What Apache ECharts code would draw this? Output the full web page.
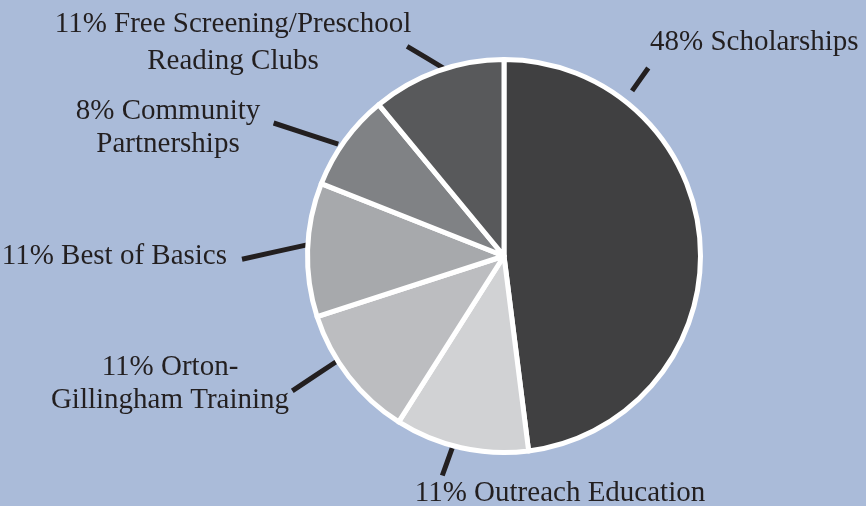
<!DOCTYPE html>
<html>
<head>
<meta charset="utf-8">
<script src="https://cdn.jsdelivr.net/npm/echarts@6/dist/echarts.min.js"></script>
<style>
html,body{margin:0;padding:0;background:#aabbd9;}
#c{width:866px;height:506px;}
</style>
</head>
<body>
<div id="c"></div>
<script>
const categories = ['Scholarships', 'Outreach Education', 'Orton-Gillingham Training', 'Best of Basics', 'Community Partnerships', 'Free Screening/Preschool Reading Clubs'];
const values = [48, 11, 11, 11, 8, 11];
const labelTexts = ['48% Scholarships', '11% Outreach Education', '11% Orton-\nGillingham Training', '11% Best of Basics', '8% Community\nPartnerships', '11% Free Screening/Preschool\nReading Clubs'];
const colors = ['#404041', '#d1d2d4', '#bcbdc0', '#a7a9ac', '#808285', '#58595b'];

// layout (styling only)
const CX = 504, CY = 256, R = 196.5;
const lineInner = [[37.8, 209], [195.1, 199], [237.8, 197], [273.5, 194], [304, 200], [342.5, 196]];
const lineOuter = [[37.5, 237], [195.7, 228], [237.5, 251], [269.3, 262], [300, 266], [335.2, 231]];
const labelPos = [[650, 42, 'left'], [560, 493, 'center'], [170, 384, 'center'], [227, 256, 'right'], [168, 128, 'center'], [233, 43, 'center']];
const lineHeights = [34, 34, 33, 34, 33, 37];

function pt(p) {
  const t = p[0] * Math.PI / 180;
  return [CX + p[1] * Math.sin(t), CY - p[1] * Math.cos(t)];
}

const chart = echarts.init(document.getElementById('c'));
chart.setOption({
  backgroundColor: '#aabbd9',
  animation: false,
  series: [{
    type: 'pie',
    center: [CX, CY],
    radius: R,
    startAngle: 90,
    clockwise: true,
    avoidLabelOverlap: false,
    itemStyle: { borderColor: '#ffffff', borderWidth: 5 },
    label: {
      show: true,
      position: 'outside',
      color: '#231f20',
      fontFamily: 'Liberation Serif',
      fontSize: 29,
      align: 'center'
    },
    labelLine: {
      show: true,
      lineStyle: { color: '#231f20', width: 5 }
    },
    emphasis: { disabled: true },
    data: categories.map((c, i) => ({
      name: c,
      value: values[i],
      itemStyle: { color: colors[i] },
      label: { formatter: labelTexts[i], lineHeight: lineHeights[i], align: labelPos[i][2] }
    })),
    labelLayout: function (p) {
      const i = p.dataIndex;
      const a = pt(lineInner[i]), b = pt(lineOuter[i]);
      return {
        x: labelPos[i][0],
        y: labelPos[i][1],
        align: labelPos[i][2],
        verticalAlign: 'middle',
        labelLinePoints: [a, [(a[0] + b[0]) / 2, (a[1] + b[1]) / 2], b]
      };
    }
  }]
});
</script>
</body>
</html>
